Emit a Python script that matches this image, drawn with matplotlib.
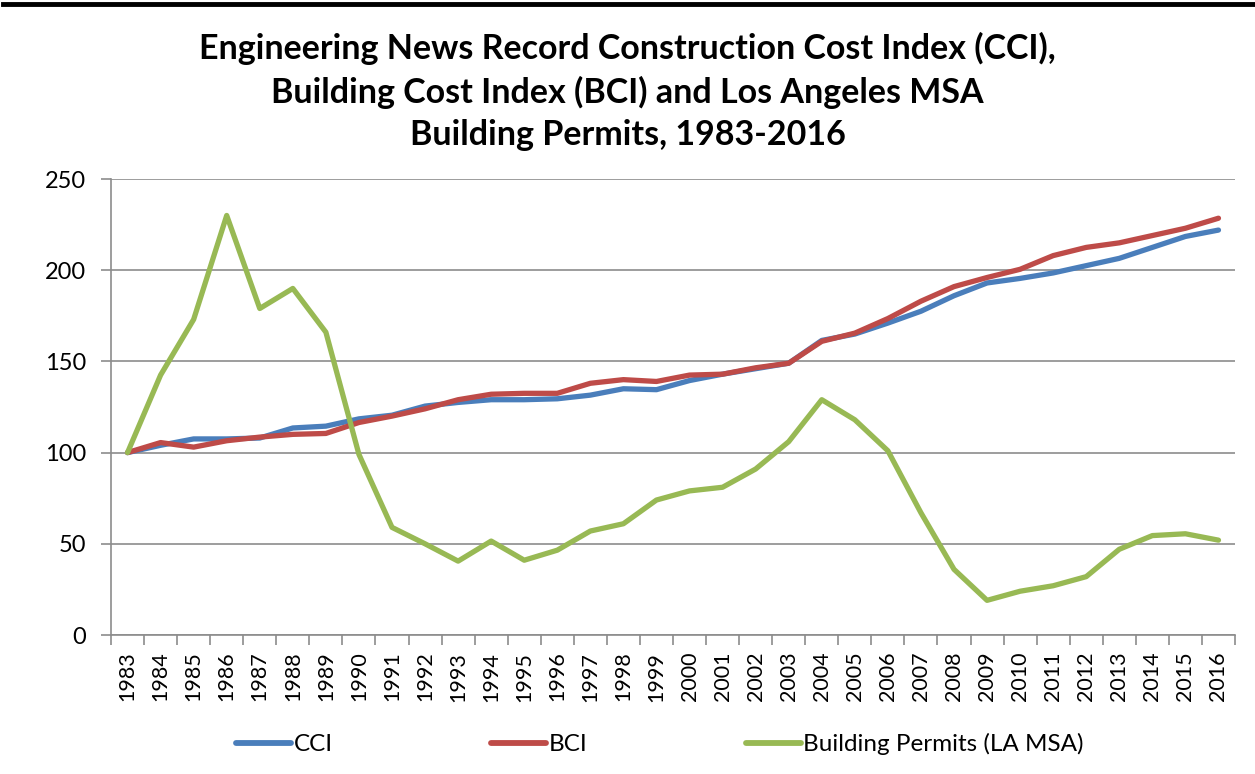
import matplotlib
matplotlib.use("Agg")
import matplotlib.pyplot as plt
from matplotlib.lines import Line2D
import numpy as np

years = [str(y) for y in range(1983, 2017)]
cci = [100, 104, 107.5, 107.5, 108, 113.5, 114.5, 118.5, 120.5, 125.5, 127.5, 129, 129, 129.5,
       131.5, 135, 134.5, 139.5, 143, 146, 149, 161.5, 165, 171, 177.5, 186, 193, 195.5,
       198.5, 202.5, 206.5, 212.5, 218.5, 222]
bci = [100, 105.5, 103, 106.5, 108.5, 110, 110.5, 116.5, 120, 124, 129, 132, 132.5, 132.5,
       138, 140, 139, 142.5, 143, 146.5, 149, 161, 165.5, 173.5, 183, 191, 196, 200.5,
       208, 212.5, 215, 219, 223, 228.5]
permits = [100, 142.5, 173, 230, 179, 190, 166, 99, 59, 50, 40.5, 51.5, 41, 46.5,
           57, 61, 74, 79, 81, 91, 106, 129, 118, 101, 67, 36, 19, 24,
           27, 32, 47, 54.5, 55.5, 52]
yticks = [0, 50, 100, 150, 200, 250]

plt.rcParams['font.family'] = ['Lato', 'DejaVu Sans']

fig = plt.figure(figsize=(12.55, 7.74), dpi=100)
ax = fig.add_axes([111/1255, 1-635/774, 1124/1255, 456/774])

x = np.arange(len(years))
lw = 3.8
ax.plot(x, cci, color='#4A7EBB', lw=lw, solid_capstyle='round', solid_joinstyle='round', label='CCI')
ax.plot(x, bci, color='#BE4B48', lw=lw, solid_capstyle='round', solid_joinstyle='round', label='BCI')
ax.plot(x, permits, color='#98B954', lw=lw, solid_capstyle='round', solid_joinstyle='round',
        label='Building Permits (LA MSA)')

ax.set_xlim(-0.5, len(years) - 0.5)
ax.set_ylim(0, 250)
ax.set_yticks(yticks)
ax.set_yticklabels([str(v) for v in yticks], fontsize=17)
ax.yaxis.grid(True, color='#8C8C8C', lw=1.2)
ax.set_axisbelow(True)

ax.set_xticks(x)
ax.set_xticklabels(years, rotation=90, fontsize=15.5)
ax.set_xticks(np.arange(-0.5, len(years), 1), minor=True)
ax.tick_params(axis='x', which='major', length=0, pad=12)
ax.tick_params(axis='x', which='minor', length=7, width=1.2, color='#8C8C8C', direction='out')
ax.tick_params(axis='y', length=7, width=1.2, color='#8C8C8C', direction='out', pad=11)

for s in ['top', 'right']:
    ax.spines[s].set_visible(False)
for s in ['left', 'bottom']:
    ax.spines[s].set_color('#8C8C8C')
    ax.spines[s].set_linewidth(1.2)

fig.text(0.5, 1 - 32/774, 'Engineering News Record Construction Cost Index (CCI),\n'
         'Building Cost Index (BCI) and Los Angeles MSA\nBuilding Permits, 1983-2016',
         ha='center', va='top', fontsize=24.5, fontweight='bold', linespacing=1.4)

leg = fig.legend(loc='center', bbox_to_anchor=(660/1255, 1 - 744/774), ncol=3, frameon=False,
                 fontsize=17.5, handlelength=2.26, columnspacing=6.5, handletextpad=0.12)
for h in leg.get_lines():
    h.set_linewidth(4.2)

fig.add_artist(Line2D([3/1255, 1], [1 - 4/774, 1 - 4/774], color='black', lw=3.5,
                      transform=fig.transFigure))

fig.savefig('out.png', dpi=100)
